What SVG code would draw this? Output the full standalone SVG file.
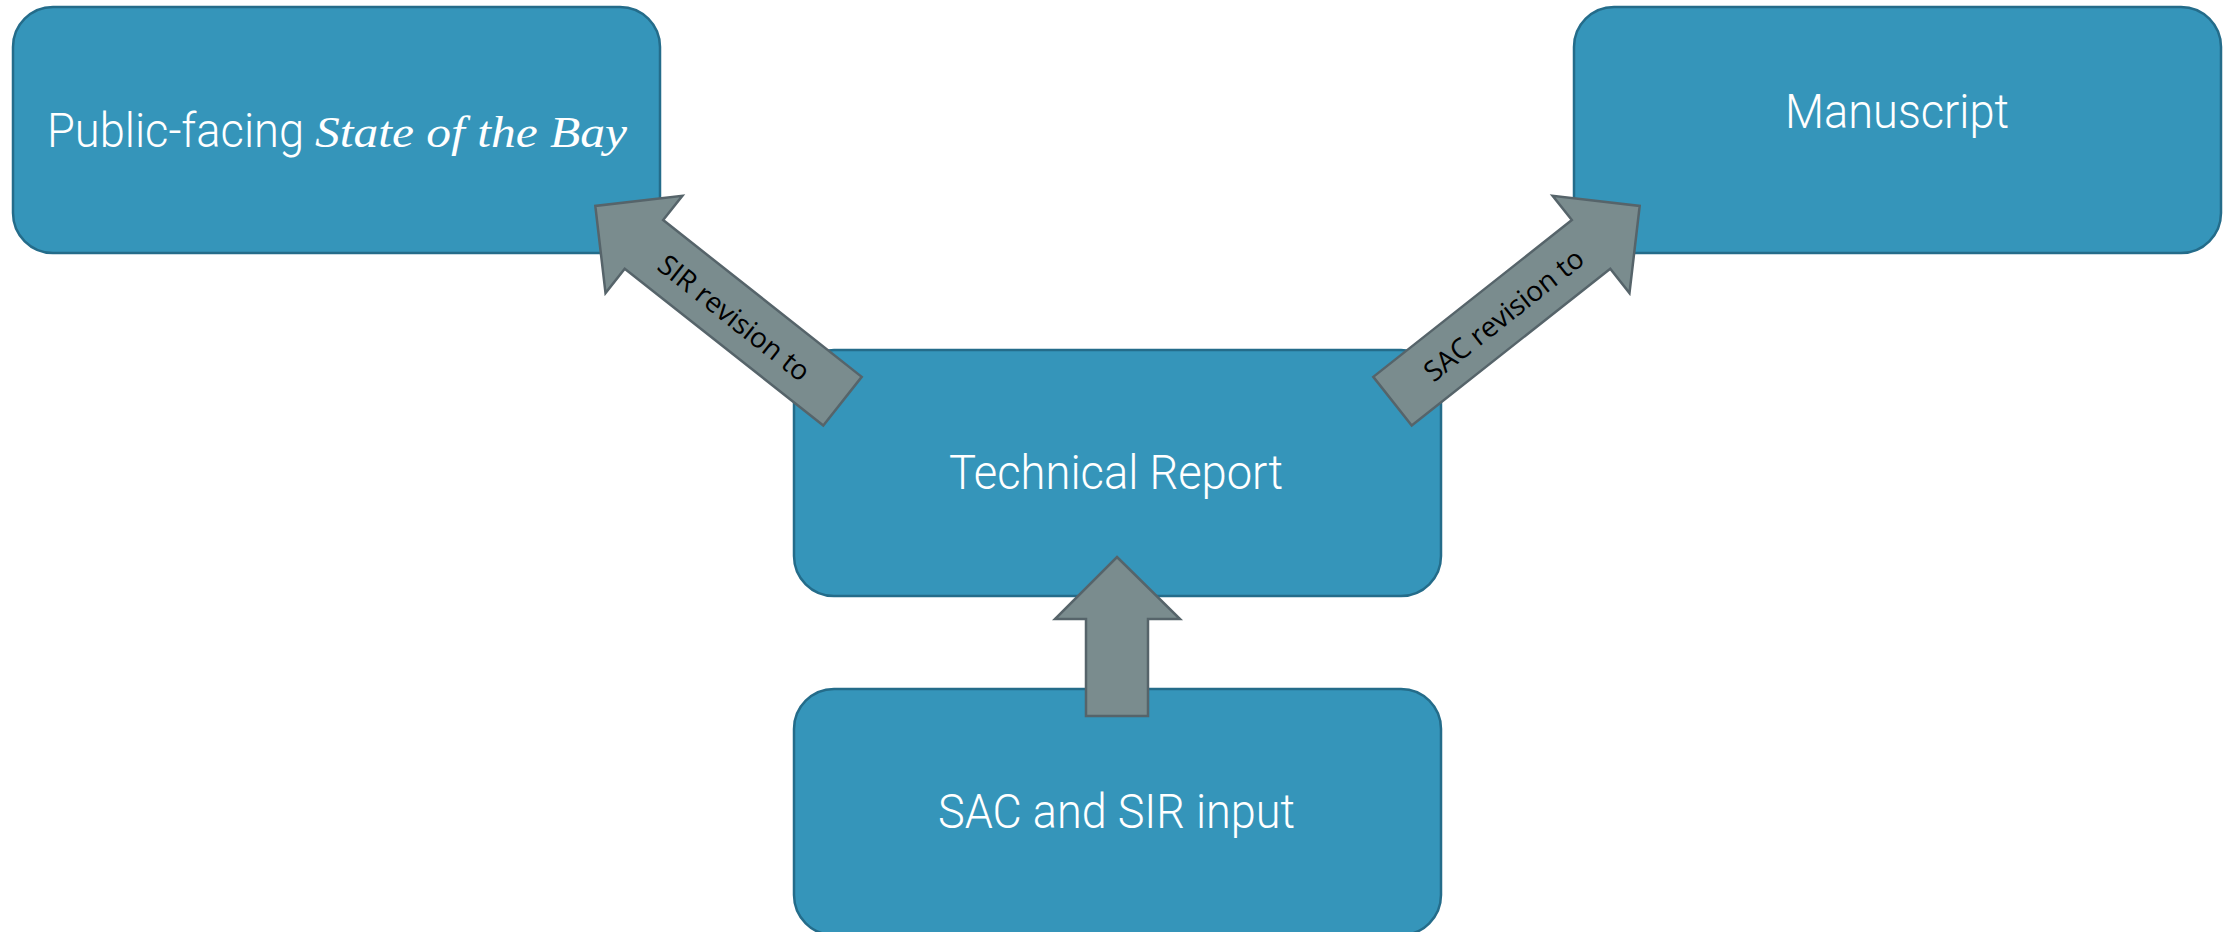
<svg xmlns="http://www.w3.org/2000/svg" width="2226" height="932" viewBox="0 0 2226 932">
  <style>
    .box { fill: #3595BA; stroke: #246C8A; stroke-width: 2.5; }
    .label { fill: #FFFFFF; font-family: Roboto, "Open Sans", "Liberation Sans", sans-serif; font-weight: 300; font-size: 48px; }
    .label-it { fill: #FFFFFF; font-family: "Liberation Serif", "DejaVu Serif", serif; font-style: italic; font-size: 44px; }
    .arrow { fill: #7A8C8E; stroke: #56646A; stroke-width: 2.5; stroke-linejoin: miter; }
    .arrow-label { fill: #000000; font-family: "Open Sans", "Noto Sans", "Liberation Sans", sans-serif; font-size: 28px; }
  </style>

  <rect width="2226" height="932" fill="#FFFFFF"/>

  <!-- nodes -->
  <g id="node-public">
    <rect class="box" x="13" y="7" width="647" height="246" rx="40" ry="40"/>
    <text class="label" x="47" y="147" textLength="257" lengthAdjust="spacingAndGlyphs">Public-facing</text>
    <text class="label-it" x="315" y="147" textLength="312" lengthAdjust="spacingAndGlyphs">State of the Bay</text>
  </g>

  <g id="node-manuscript">
    <rect class="box" x="1574" y="7" width="647" height="246" rx="40" ry="40"/>
    <text class="label" x="1785" y="128" textLength="224" lengthAdjust="spacingAndGlyphs">Manuscript</text>
  </g>

  <g id="node-technical">
    <rect class="box" x="794" y="350" width="647" height="246" rx="40" ry="40"/>
    <text class="label" x="949" y="489" textLength="334" lengthAdjust="spacingAndGlyphs">Technical Report</text>
  </g>

  <g id="node-input">
    <rect class="box" x="794" y="689" width="647" height="246" rx="40" ry="40"/>
    <text class="label" x="938" y="828" textLength="357" lengthAdjust="spacingAndGlyphs">SAC and SIR input</text>
  </g>

  <!-- connectors: block arrows -->
  <g id="connectors">
    <g id="arrow-sir">
      <polygon class="arrow" transform="translate(842.5,401.2) rotate(218.3)"
               points="0,-31 253,-31 253,-62 315,0 253,62 253,31 0,31"/>
      <text class="arrow-label" transform="translate(735,317) rotate(38.3)" text-anchor="middle" dominant-baseline="central">SIR revision to</text>
    </g>
    <g id="arrow-sac">
      <polygon class="arrow" transform="translate(1392.5,401.2) rotate(-38.3)"
               points="0,-31 253,-31 253,-62 315,0 253,62 253,31 0,31"/>
      <text class="arrow-label" transform="translate(1503,314) rotate(-38.3)" text-anchor="middle" dominant-baseline="central">SAC revision to</text>
    </g>
    <g id="arrow-input">
      <polygon class="arrow" points="1117,557 1180,619 1148,619 1148,716 1086,716 1086,619 1055,619"/>
    </g>
  </g>
</svg>
